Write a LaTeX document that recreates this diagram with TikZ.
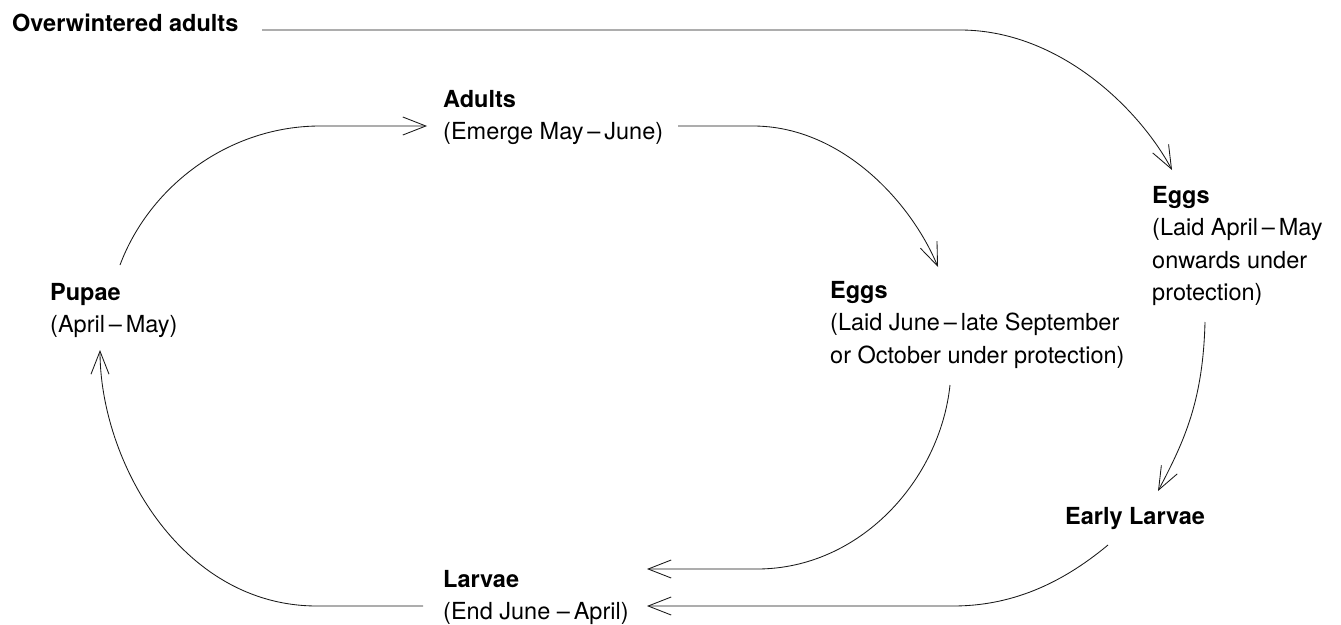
\documentclass[tikz,border=0pt]{standalone}
\usepackage{fontspec}
\setmainfont{TeX Gyre Heros}
\usetikzlibrary{arrows.meta}
\begin{document}
\begin{tikzpicture}[x=1pt,y=-1pt,
  lbl/.style={anchor=base west, inner sep=0pt, align=left, font=\fontsize{23.5}{32.5}\selectfont},
  conn/.style={line width=0.85pt, draw=black!90, -{Straight Barb[length=23pt,width=18pt,line width=0.85pt]}}]
\useasboundingbox (0,0) rectangle (1341,624);
\fill[white] (0,0) rectangle (1341,624);

% anchor=base west sits on the baseline of the LAST line of each label
\node[lbl] (ow) at (12,31) {\textbf{Overwintered adults}};
\node[lbl] (adults) at (443,139.5) {\textbf{Adults}\\(Emerge May\,–\,June)};
\node[lbl] (pupae) at (50,332.5) {\textbf{Pupae}\\(April\,–\,May)};
\node[lbl] (eggsm) at (830,363) {\textbf{Eggs}\\(Laid June\,–\,late September\\or October under protection)};
\node[lbl] (eggsr) at (1152,300.5) {\textbf{Eggs}\\(Laid April\,–\,May\\onwards under\\protection)};
\node[lbl] (early) at (1065,524) {\textbf{Early Larvae}};
\node[lbl] (larvae) at (443,619.5) {\textbf{Larvae}\\(End June –\,April)};

\coordinate (ow-s) at (262,30);
\coordinate (ow-e) at (1172,170);
\coordinate (pa-s) at (120,265);
\coordinate (pa-e) at (427,126);
\coordinate (ae-s) at (678,126);
\coordinate (ae-e) at (938,267);
\coordinate (el-s) at (950,385);
\coordinate (el-e) at (647,569);
\coordinate (re-s) at (1205,322);
\coordinate (re-e) at (1158,491);
\coordinate (ll-s) at (1108,545);
\coordinate (ll-e) at (647,606);
\coordinate (lp-s) at (423,606);
\coordinate (lp-e) at (100,350);

\draw[conn] (ow-s) -- (960,30) .. controls (1060,30) and (1140,110) .. (ow-e);
\draw[conn] (pa-s) .. controls (150,185) and (230,126) .. (320,126) -- (pa-e);
\draw[conn] (ae-s) -- (753,126) .. controls (840,126) and (910,200) .. (ae-e);
\draw[conn] (el-s) .. controls (940,480) and (860,569) .. (757,569) -- (el-e);
\draw[conn] (re-s) .. controls (1203,400) and (1185,440) .. (re-e);
\draw[conn] (ll-s) .. controls (1060,585) and (1010,606) .. (953,606) -- (ll-e);
\draw[conn] (lp-s) -- (317,606) .. controls (180,606) and (100,460) .. (lp-e);
\end{tikzpicture}
\end{document}
